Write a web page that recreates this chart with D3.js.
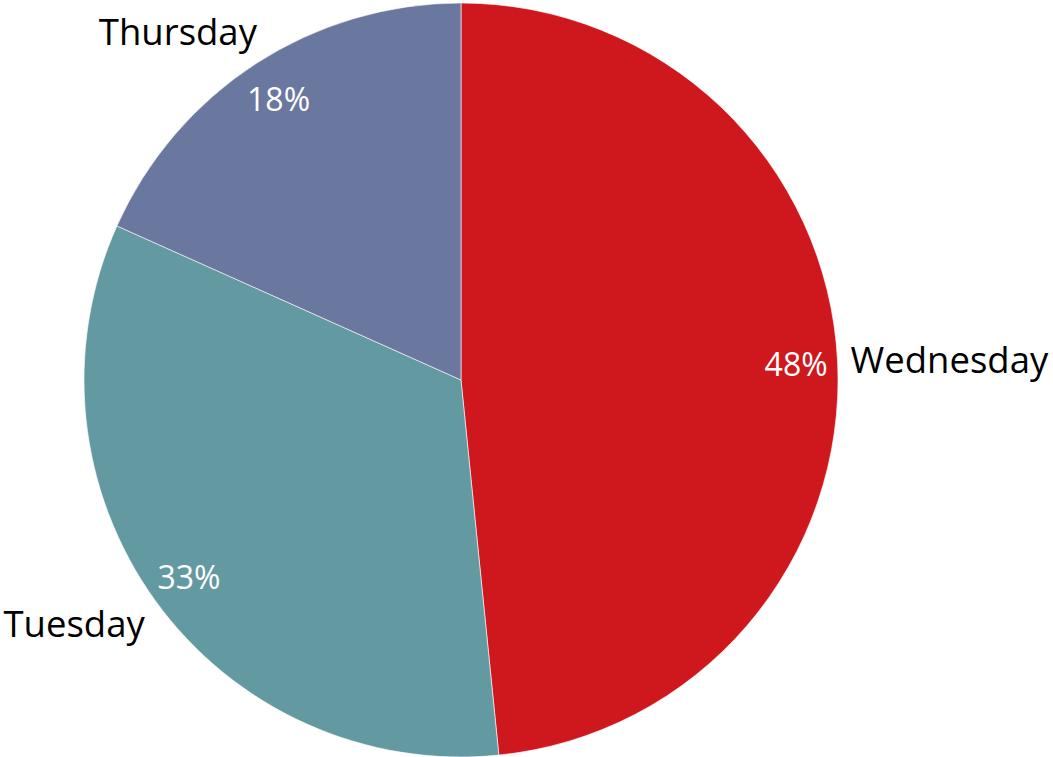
<!DOCTYPE html>
<html>
<head>
<meta charset="utf-8">
<script src="https://cdn.jsdelivr.net/npm/d3@7"></script>
<style>
  html, body { margin: 0; padding: 0; background: #fff; }
  svg { display: block; }
  text { font-family: "Open Sans", Lato, sans-serif; }
</style>
</head>
<body>
<svg id="chart" width="1053" height="757"></svg>
<script>
// Share of responses by weekday
const days = ["Wednesday", "Tuesday", "Thursday"];
const shares = [48.4, 33.3, 18.3];
const colors = ["#CE181E", "#6399A0", "#6A779F"];

const width = 1053, height = 757;
const cx = 461, cy = 380, radius = 377;

const svg = d3.select("#chart");
const g = svg.append("g").attr("transform", `translate(${cx},${cy})`);

const data = days.map((d, i) => ({ day: d, value: shares[i], color: colors[i] }));
const total = d3.sum(shares);

const pie = d3.pie().value(d => d.value).sort(null);
const arcs = pie(data);

const arc = d3.arc().innerRadius(0).outerRadius(radius);

g.selectAll("path.slice")
  .data(arcs)
  .join("path")
  .attr("class", "slice")
  .attr("d", arc)
  .attr("fill", d => d.data.color)
  .attr("stroke", "#ffffff")
  .attr("stroke-width", 0.6);

// Percentage labels inside the outer edge
const inner = d3.arc().innerRadius(radius * 0.89).outerRadius(radius * 0.89);
g.selectAll("text.pct")
  .data(arcs)
  .join("text")
  .attr("class", "pct")
  .attr("transform", d => `translate(${inner.centroid(d)})`)
  .attr("text-anchor", "middle")
  .attr("dominant-baseline", "central")
  .attr("fill", "#ffffff")
  .attr("font-size", 32)
  .text(d => Math.round(d.data.value / total * 100) + "%");

// Category labels just outside the pie
const gap = 13;
g.selectAll("text.cat")
  .data(arcs)
  .join("text")
  .attr("class", "cat")
  .each(function(d) {
    const a = (d.startAngle + d.endAngle) / 2;
    const r = radius + gap;
    const x = Math.sin(a) * r + (Math.cos(a) > 0.5 ? 8 : 0);
    const y = -Math.cos(a) * r - Math.cos(a) * 26;
    d3.select(this)
      .attr("x", x)
      .attr("y", y)
      .attr("text-anchor", Math.sin(a) >= 0 ? "start" : "end");
  })
  .attr("dominant-baseline", "central")
  .attr("fill", "#000000")
  .attr("font-size", 36.5)
  .text(d => d.data.day);
</script>
</body>
</html>
